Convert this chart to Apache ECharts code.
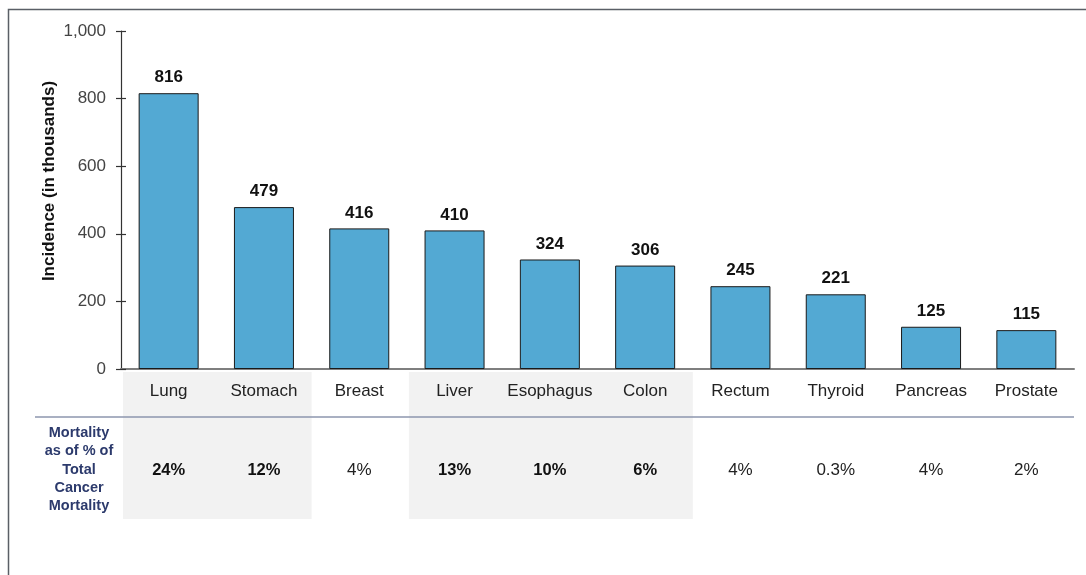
<!DOCTYPE html>
<html>
<head>
<meta charset="utf-8">
<script src="https://cdn.jsdelivr.net/npm/echarts@6/dist/echarts.min.js"></script>
<style>
  html, body { margin: 0; padding: 0; background: #fff; }
  #chart { width: 1086px; height: 575px; }
</style>
</head>
<body>
<div id="chart"></div>
<script>
// Cancer sites, ordered by incidence
const categories = ['Lung', 'Stomach', 'Breast', 'Liver', 'Esophagus', 'Colon', 'Rectum', 'Thyroid', 'Pancreas', 'Prostate'];
// New cases, in thousands
const incidence = [816, 479, 416, 410, 324, 306, 245, 221, 125, 115];
// Share of total cancer mortality
const mortality = ['24%', '12%', '4%', '13%', '10%', '6%', '4%', '0.3%', '4%', '2%'];
// Sites whose mortality share is emphasised (bold + shaded column)
const highlighted = [true, true, false, true, true, true, false, false, false, false];
const yTicks = [0, 200, 400, 600, 800, 1000];
const yTitle = 'Incidence (in thousands)';
const rowHeader = 'Mortality\nas of % of\nTotal\nCancer\nMortality';

const FONT = '"Liberation Sans", Arial, sans-serif';
const chart = echarts.init(document.getElementById('chart'));

const option = {
  animation: false,
  backgroundColor: '#fff',
  grid: { left: 121, top: 31, width: 953, height: 338 },
  xAxis: [
    {
      type: 'category',
      data: categories,
      position: 'bottom',
      axisLine: { lineStyle: { color: '#7f7f7f', width: 2 } },
      axisTick: { show: false },
      axisLabel: { interval: 0, color: '#222', fontFamily: FONT, fontSize: 17, margin: 14 }
    },
    {
      type: 'category',
      data: mortality,
      position: 'bottom',
      offset: 93,
      axisLine: { show: false },
      axisTick: { show: false },
      axisLabel: {
        interval: 0, fontFamily: FONT, fontSize: 17, color: '#222', margin: 0,
        formatter: (v, i) => highlighted[i] ? '{b|' + v + '}' : '{n|' + v + '}',
        rich: {
          b: { fontFamily: FONT, fontSize: 16.5, fontWeight: 'bold', color: '#111' },
          n: { fontFamily: FONT, fontSize: 17, color: '#222' }
        }
      }
    }
  ],
  yAxis: [
    {
      type: 'value',
      min: 0, max: 1000, interval: 200,
      axisLine: { show: true, lineStyle: { color: '#333', width: 1.2 } },
      axisTick: { show: true, length: 5, lineStyle: { color: '#333', width: 1.2 } },
      splitLine: { show: false },
      axisLabel: {
        color: '#444', fontFamily: FONT, fontSize: 17, margin: 15,
        formatter: v => yTicks.includes(v) ? v.toLocaleString('en-US') : ''
      }
    },
    {
      // inner half of the cross-shaped tick marks
      type: 'value',
      position: 'left',
      min: 0, max: 1000, interval: 200,
      axisLine: { show: false },
      axisTick: { show: true, inside: true, length: 5, lineStyle: { color: '#333', width: 1.2 } },
      axisLabel: { show: false },
      splitLine: { show: false }
    }
  ],
  series: [
    {
      type: 'bar',
      data: incidence,
      barWidth: 60,
      itemStyle: { color: '#53a9d3', borderColor: '#1a1a1a', borderWidth: 1 },
      label: {
        show: true, position: 'top', distance: 7,
        fontFamily: FONT, fontSize: 17, fontWeight: 'bold', color: '#111'
      }
    }
  ]
};
chart.setOption(option);

// Shaded columns, separator rule, titles and frame, placed from the axis scale
function buildGraphics() {
  const x0 = chart.convertToPixel({ xAxisIndex: 0 }, 0);
  const x1 = chart.convertToPixel({ xAxisIndex: 0 }, 1);
  const band = x1 - x0;
  const axisY = chart.convertToPixel({ yAxisIndex: 0 }, 0);
  const right = x0 - band / 2 + band * categories.length;
  const els = [];
  let i = 0;
  while (i < highlighted.length) {
    if (highlighted[i]) {
      let j = i;
      while (j + 1 < highlighted.length && highlighted[j + 1]) j++;
      const left = chart.convertToPixel({ xAxisIndex: 0 }, i) - band / 2 + 2;
      const rgt = chart.convertToPixel({ xAxisIndex: 0 }, j) + band / 2;
      els.push({
        type: 'rect', z: -1, silent: true,
        shape: { x: left, y: axisY + 3, width: rgt - left, height: 147 },
        style: { fill: '#f2f2f2' }
      });
      i = j + 1;
    } else i++;
  }
  els.push({
    type: 'line', silent: true,
    shape: { x1: 35, y1: axisY + 48, x2: right, y2: axisY + 48 },
    style: { stroke: '#8d96ae', lineWidth: 1.5 }
  });
  els.push({
    type: 'text', silent: true,
    x: 49, y: 181, rotation: Math.PI / 2,
    style: {
      text: yTitle, fill: '#111', align: 'center', verticalAlign: 'middle',
      font: 'bold 17px ' + FONT
    }
  });
  els.push({
    type: 'text', silent: true,
    x: 79, y: axisY + 55,
    style: {
      text: rowHeader, fill: '#2c3a6c', align: 'center', verticalAlign: 'top',
      font: 'bold 14.5px ' + FONT, lineHeight: 18.2
    }
  });
  els.push({
    type: 'polyline', silent: true,
    shape: { points: [[8.5, 580], [8.5, 9.5], [1090, 9.5]] },
    style: { stroke: '#5a5f66', lineWidth: 1.5, fill: null }
  });
  chart.setOption({ graphic: { elements: els } });
}
buildGraphics();
</script>
</body>
</html>
